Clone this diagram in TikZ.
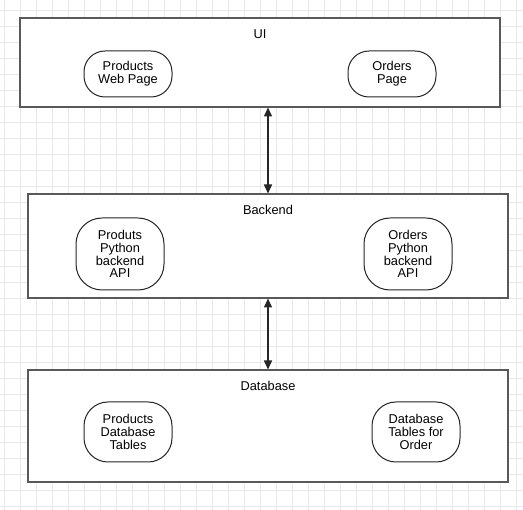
\documentclass[tikz,border=0pt]{standalone}
\usepackage{fontspec}
\setmainfont{Liberation Sans}
\usetikzlibrary{arrows.meta}
\begin{document}
\begin{tikzpicture}[x=1pt,y=-1pt,
  layer/.style={draw=black!65,line width=1.5pt,fill=white},
  comp/.style={draw=black!85,line width=1pt,fill=white,rounded corners=21pt,align=center,
    font=\fontsize{12.8}{12.8}\selectfont,inner sep=0pt},
  ttl/.style={font=\fontsize{12.8}{13}\selectfont,inner sep=0pt},
  link/.style={line width=1.5pt,black!85,{Triangle[width=8pt,length=9pt]}-{Triangle[width=8pt,length=9pt]},shorten <=0.5pt,shorten >=0.5pt}]
\useasboundingbox (0,0) rectangle (523,510);
\fill[white] (0,0) rectangle (523,510);
\foreach \x in {4,20,...,520} \draw[black!9,line width=0.8pt] (\x,0) -- (\x,510);
\foreach \y in {10,26,...,508} \draw[black!9,line width=0.8pt] (0,\y) -- (523,\y);
% layers
\node[layer,minimum width=480pt,minimum height=89pt,inner sep=0pt] (ui) at (260,62.5) {};
\node[layer,minimum width=480pt,minimum height=104pt,inner sep=0pt] (be) at (268,246) {};
\node[layer,minimum width=480pt,minimum height=112pt,inner sep=0pt] (db) at (268,426) {};
\node[ttl] (uit) at (260,34) {UI};
\node[ttl] (bet) at (268,210) {Backend};
\node[ttl] (dbt) at (268,386) {Database};
% components
\node[comp,minimum width=88pt,minimum height=46pt] (pwp) at (128,74) {Products\\Web Page};
\node[comp,minimum width=88pt,minimum height=46pt] (op) at (392,74) {Orders\\Page};
\node[comp,minimum width=88pt,minimum height=72pt,rounded corners=26pt] (ppa) at (120,254) {Produts\\Python\\backend\\API};
\node[comp,minimum width=88pt,minimum height=72pt,rounded corners=26pt] (opa) at (408,254) {Orders\\Python\\backend\\API};
\node[comp,minimum width=88pt,minimum height=60pt,rounded corners=24pt] (pdt) at (128,432) {Products\\Database\\Tables};
\node[comp,minimum width=88pt,minimum height=60pt,rounded corners=24pt] (dto) at (416,432) {Database\\Tables for\\Order};
% connectors
\coordinate (a1) at (268,107);
\coordinate (a2) at (268,194);
\coordinate (b1) at (268,298);
\coordinate (b2) at (268,370);
\draw[link] (a1) -- (a2);
\draw[link] (b1) -- (b2);
\end{tikzpicture}
\end{document}
